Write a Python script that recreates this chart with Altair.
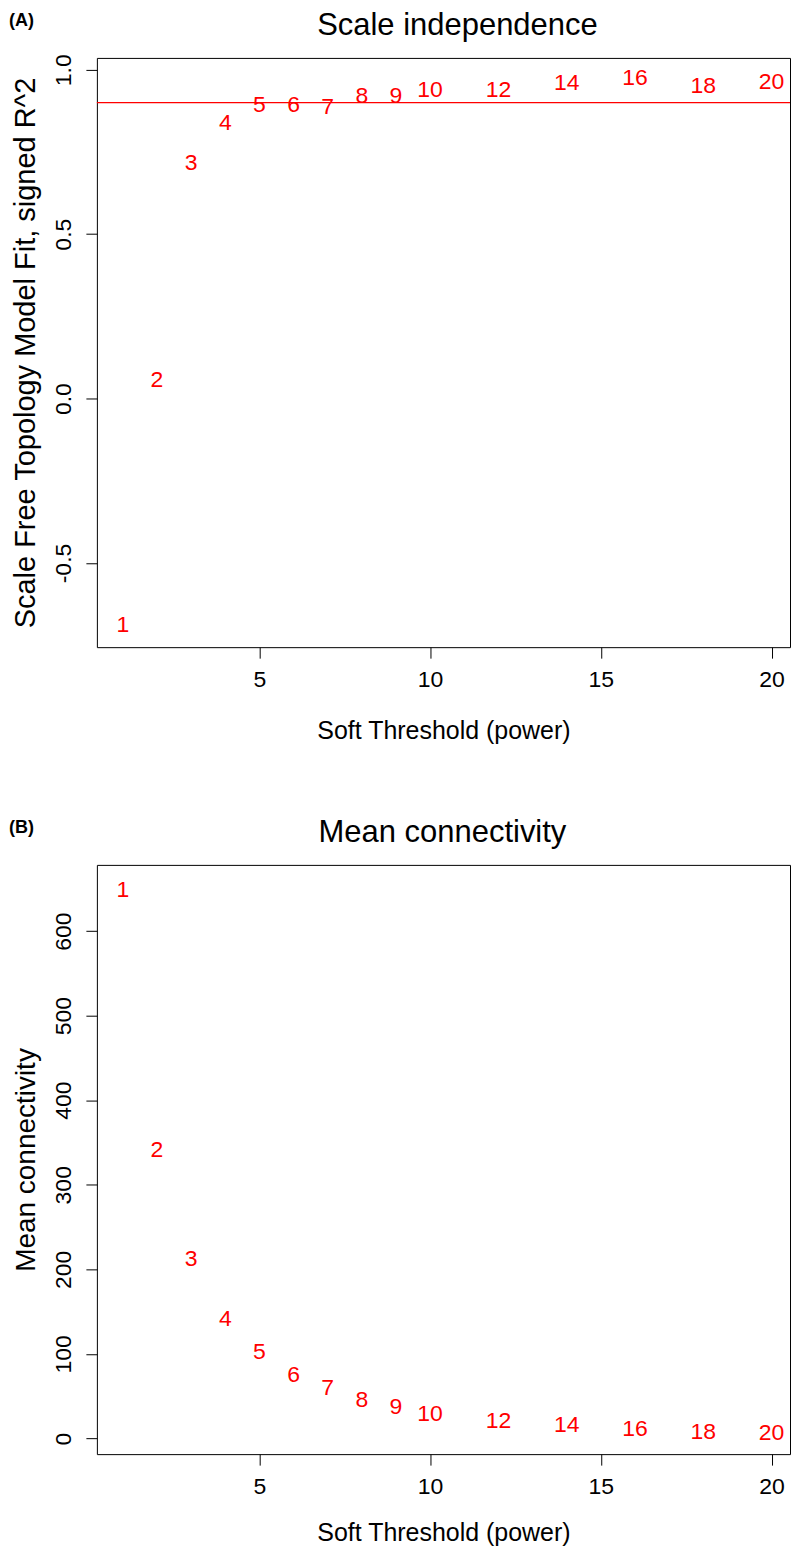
import altair as alt
import pandas as pd

powers = [1, 2, 3, 4, 5, 6, 7, 8, 9, 10, 12, 14, 16, 18, 20]
sft_r2 = [-0.69, 0.056, 0.717, 0.838, 0.893, 0.892, 0.887, 0.921, 0.920, 0.939, 0.939, 0.960, 0.975, 0.951, 0.962]
mean_k = [648.7, 340.7, 211.9, 141.5, 102.0, 75.6, 59.3, 45.5, 36.8, 28.8, 20.2, 15.8, 11.0, 7.1, 5.9]
r2_cut = [0.90]

x_ticks = [5, 10, 15, 20]
r2_ticks = [-0.5, 0.0, 0.5, 1.0]
k_ticks = [0, 100, 200, 300, 400, 500, 600]

x_domain = [0.24, 20.54]
r2_domain = [-0.756, 1.036]
k_domain = [-18.5, 678.2]

FONT = "Liberation Sans"
RED = "#FF0000"
W, H = 694, 590

dfA = pd.DataFrame({"power": powers, "val": sft_r2, "lab": [str(p) for p in powers]})
dfB = pd.DataFrame({"power": powers, "val": mean_k, "lab": [str(p) for p in powers]})
dfCut = pd.DataFrame({"h": r2_cut})


def xaxis(tpad, lpad):
    return alt.Axis(values=x_ticks, title="Soft Threshold (power)", format="d",
                    titleFontSize=25, titlePadding=tpad, labelPadding=lpad)


def yaxis(ticks, title, fmt, tsize):
    return alt.Axis(values=ticks, title=title, format=fmt, labelAngle=270,
                    labelAlign="center", labelBaseline="alphabetic", labelPadding=15,
                    labelExpr="replace(datum.label, '\u2212', '-')",
                    titleFontSize=tsize, titlePadding=12)


def panel(df, ydomain, yticks, ytitle, yfmt, tsize, letter, title, title_x, tpad, lpad, extra=None):
    pts = alt.Chart(df).mark_text(color=RED, fontSize=23, font=FONT, baseline="middle").encode(
        x=alt.X("power:Q", scale=alt.Scale(domain=x_domain, nice=False, zero=False),
                axis=xaxis(tpad, lpad)),
        y=alt.Y("val:Q", scale=alt.Scale(domain=ydomain, nice=False, zero=False),
                axis=yaxis(yticks, ytitle, yfmt, tsize)),
        text="lab:N",
    )
    let = alt.Chart(pd.DataFrame({"t": [letter]})).mark_text(
        font=FONT, fontSize=18, fontWeight="bold", align="left", baseline="top", color="black"
    ).encode(x=alt.value(-88), y=alt.value(-46), text="t:N")
    ttl = alt.Chart(pd.DataFrame({"t": [title]})).mark_text(
        font=FONT, fontSize=31, align="center", baseline="top", color="black"
    ).encode(x=alt.value(title_x), y=alt.value(-47), text="t:N")
    layers = [pts]
    if extra is not None:
        layers.append(extra)
    layers += [let, ttl]
    return alt.layer(*layers).properties(width=W, height=H)


rule = alt.Chart(dfCut).mark_rule(color=RED, strokeWidth=1.3).encode(y=alt.Y("h:Q"))

chartA = panel(dfA, r2_domain, r2_ticks, "Scale Free Topology Model Fit, signed R^2", ".1f", 29,
               "(A)", "Scale independence", 361, 27, 10, extra=rule)
chartB = panel(dfB, k_domain, k_ticks, "Mean connectivity", "d", 28,
               "(B)", "Mean connectivity", 346, 22, 10)

chart = alt.vconcat(chartA, chartB, spacing=72).properties(padding=0).configure(
    background="white"
).configure_view(
    stroke="black", strokeWidth=1
).configure_axis(
    labelFont=FONT, titleFont=FONT, labelFontSize=23, labelColor="black", titleColor="black",
    titleFontWeight="normal", tickColor="black", tickSize=11, tickWidth=1, domain=False, grid=False,
    labelOverlap=False, labelFlush=False
)

chart.save("out.html", embed_options={"renderer": "svg", "actions": False})
